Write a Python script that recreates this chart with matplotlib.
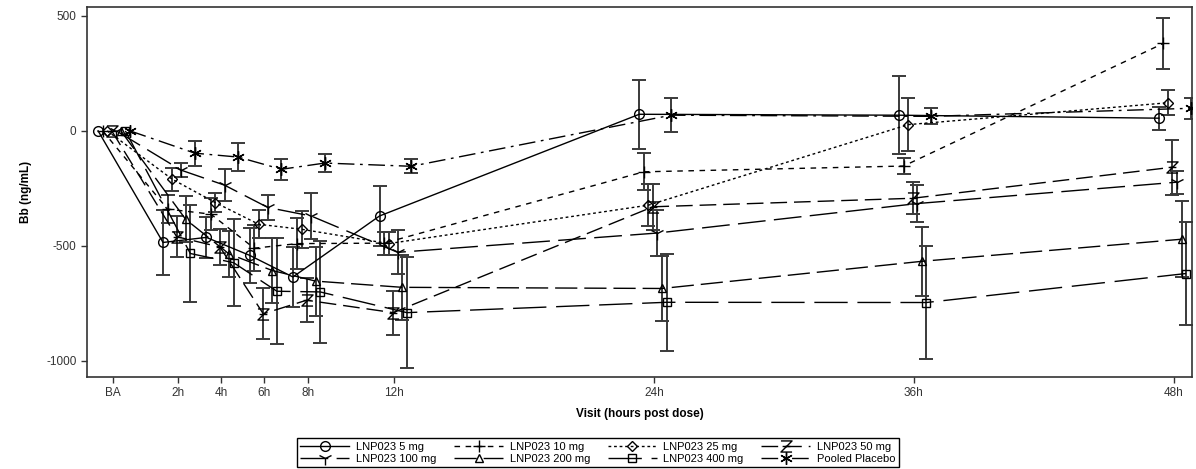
import numpy as np
import matplotlib.pyplot as plt
from matplotlib.path import Path

plt.rcParams['font.family'] = ['Liberation Sans', 'DejaVu Sans']
plt.rcParams['axes.unicode_minus'] = False

# Visit times (hours, BA placed at -1) and tick labels
times = [-1, 2, 4, 6, 8, 12, 24, 36, 48]
tick_labels = ['BA', '2h', '4h', '6h', '8h', '12h', '24h', '36h', '48h']

# Group names
groups = ['LNP023 5 mg', 'LNP023 10 mg', 'LNP023 25 mg', 'LNP023 50 mg',
          'LNP023 100 mg', 'LNP023 200 mg', 'LNP023 400 mg', 'Pooled Placebo']

# Mean change in Bb (ng/mL) and standard error per group
mean_5mg = [0, -485, -463, -541, -635, -370, 72, 68, 55]
se_5mg = [0, 140, 90, 120, 130, 130, 150, 170, 50]
mean_10mg = [0, -340, -362, -510, -490, -488, -178, -153, 380]
se_10mg = [0, 60, 70, 100, 110, 50, 80, 35, 110]
mean_25mg = [0, -210, -312, -406, -428, -490, -323, 27, 122]
se_25mg = [0, 50, 40, 60, 80, 50, 90, 115, 55]
mean_50mg = [0, -460, -505, -795, -736, -790, -330, -293, -158]
se_50mg = [0, 90, 80, 110, 95, 95, 100, 70, 120]
mean_100mg = [0, -171, -236, -333, -370, -528, -444, -316, -223]
se_100mg = [0, 30, 70, 55, 100, 95, 100, 80, 50]
mean_200mg = [0, -385, -535, -607, -653, -680, -685, -567, -471]
se_200mg = [0, 100, 100, 140, 150, 140, 140, 150, 165]
mean_400mg = [0, -533, -573, -697, -700, -790, -745, -746, -620]
se_400mg = [0, 210, 190, 230, 220, 240, 210, 245, 225]
mean_pbo = [0, -97, -114, -167, -140, -154, 68, 63, 98]
se_pbo = [0, 55, 60, 45, 40, 30, 75, 35, 45]

means = [mean_5mg, mean_10mg, mean_25mg, mean_50mg,
         mean_100mg, mean_200mg, mean_400mg, mean_pbo]
ses = [se_5mg, se_10mg, se_25mg, se_50mg,
       se_100mg, se_200mg, se_400mg, se_pbo]

# SAS-like "Z" marker drawn as a stroked path
z_marker = Path([(-1, 1), (1, 1), (-1, -1), (1, -1), (-0.7, 0), (0.7, 0)],
                [Path.MOVETO, Path.LINETO, Path.LINETO, Path.LINETO,
                 Path.MOVETO, Path.LINETO])

# Line style / marker per group
styles = [
    dict(ls='-', marker='o', ms=7),
    dict(ls=(0, (4, 4)), marker='+', ms=9),
    dict(ls=(0, (2, 2)), marker='D', ms=5),
    dict(ls=(0, (12, 5)), marker=z_marker, ms=8),
    dict(ls=(0, (20, 6)), marker='1', ms=10),
    dict(ls=(0, (16, 5)), marker='^', ms=6),
    dict(ls=(0, (24, 7)), marker='s', ms=6),
    dict(ls=(0, (12, 4, 2, 4)), marker=(6, 2, 0), ms=9),
]

fig = plt.figure(figsize=(11.96, 4.69), dpi=100)
ax = fig.add_axes([0.0727, 0.196, 0.924, 0.789])

t = np.array(times, dtype=float)
handles = []
for i in range(len(groups)):
    dodge = (i - 3.5) * 0.21 + 0.05
    x = t + dodge
    m = np.array(means[i], dtype=float)
    e = np.array(ses[i], dtype=float)
    st = styles[i]
    ax.errorbar(x[1:], m[1:], yerr=e[1:], fmt='none', ecolor='#3a3a3a',
                elinewidth=1.4, capsize=5, capthick=1.4, zorder=2)
    h, = ax.plot(x, m, color='black', lw=1.0, linestyle=st['ls'],
                 marker=st['marker'], markersize=st['ms'],
                 markerfacecolor='none', markeredgecolor='black',
                 markeredgewidth=1.0, label=groups[i], zorder=3)
    handles.append(h)

ax.set_xlim(-2.2, 48.85)
ax.set_ylim(-1070, 538)
ax.set_xticks(times)
ax.set_xticklabels(tick_labels)
ax.set_yticks([-1000, -500, 0, 500])
ax.tick_params(labelsize=8.5, length=4, width=1, colors='#333333')
for sp in ax.spines.values():
    sp.set_linewidth(1.2)
    sp.set_color('#333333')

ax.set_xlabel('Visit (hours post dose)', fontsize=8.5, fontweight='bold', labelpad=6)
ax.set_ylabel('Bb (ng/mL)', fontsize=8.5, fontweight='bold', labelpad=10)

# legend is filled column by column, so reorder to read row-wise
order = [0, 4, 1, 5, 2, 6, 3, 7]
fig.legend(handles=[handles[k] for k in order], loc='lower center',
           bbox_to_anchor=(0.5, 0.004), borderaxespad=0,
           ncol=4, fontsize=8, frameon=True, fancybox=False, edgecolor='black',
           framealpha=1, handlelength=4.4, numpoints=1, columnspacing=1.6,
           borderpad=0.3, labelspacing=0.2, handletextpad=0.6)

fig.savefig('out.png', dpi=100)
